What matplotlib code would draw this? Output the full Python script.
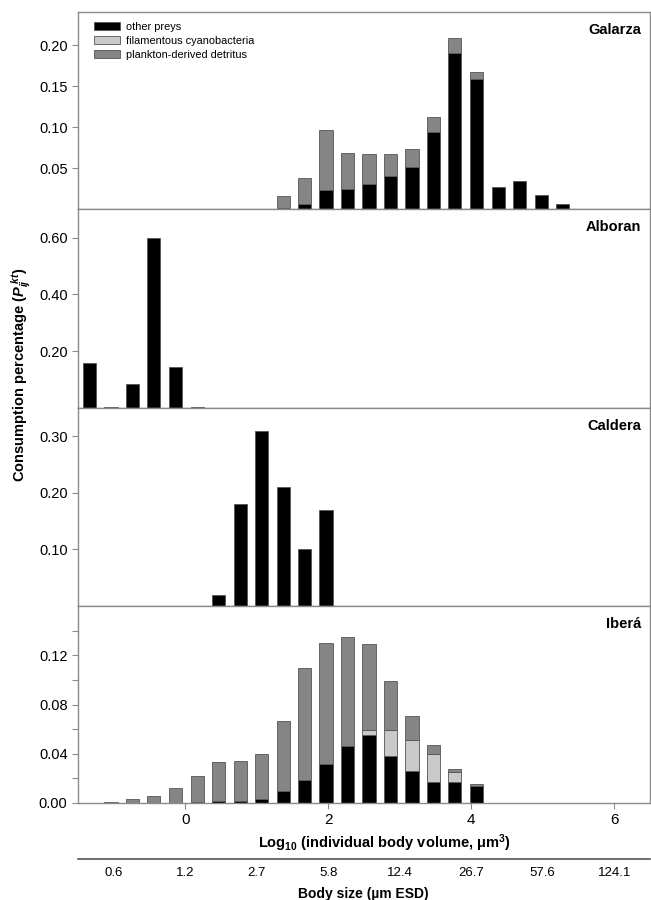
import numpy as np
import matplotlib
matplotlib.use("Agg")
import matplotlib.pyplot as plt
from matplotlib.patches import Patch

plt.rcParams['font.family'] = ['Liberation Sans', 'DejaVu Sans']
plt.rcParams['mathtext.fontset'] = 'custom'
plt.rcParams['mathtext.rm'] = 'Liberation Sans:bold'
plt.rcParams['mathtext.bf'] = 'Liberation Sans:bold'
plt.rcParams['mathtext.it'] = 'Liberation Sans:bold:italic'

# log10 body volume of each size class (centre of bin)
bin_centers = [-1.34, -1.04, -0.74, -0.44, -0.14, 0.17, 0.47, 0.77, 1.07, 1.37, 1.67,
               1.97, 2.27, 2.57, 2.87, 3.17, 3.47, 3.77, 4.07, 4.38, 4.68, 4.98, 5.28]

# Galarza (size classes 9..22)
galarza_other = [0.001, 0.007, 0.024, 0.025, 0.031, 0.040, 0.052, 0.094, 0.191, 0.159,
                 0.027, 0.035, 0.018, 0.007]
galarza_cyano = [0, 0, 0, 0, 0, 0, 0, 0, 0, 0, 0, 0, 0, 0]
galarza_detritus = [0.015, 0.031, 0.073, 0.044, 0.036, 0.027, 0.022, 0.019, 0.018, 0.008,
                    0, 0, 0, 0]

# Alboran (size classes 0..5)
alboran_other = [0.16, 0.005, 0.085, 0.60, 0.145, 0.004]

# Caldera (size classes 6..11)
caldera_other = [0.02, 0.18, 0.31, 0.21, 0.10, 0.17]

# Ibera (size classes 1..18)
ibera_other = [0, 0, 0, 0, 0.001, 0.002, 0.002, 0.003, 0.010, 0.019, 0.032, 0.046,
               0.055, 0.038, 0.026, 0.017, 0.017, 0.0135]
ibera_cyano = [0, 0, 0, 0, 0, 0, 0, 0, 0, 0, 0, 0,
               0.0045, 0.0215, 0.0255, 0.023, 0.0085, 0]
ibera_detritus = [0.001, 0.003, 0.006, 0.012, 0.021, 0.031, 0.032, 0.037, 0.057, 0.091,
                  0.098, 0.089, 0.0695, 0.0395, 0.0195, 0.007, 0.0025, 0.002]

esd_ticks = [-1, 0, 1, 2, 3, 4, 5, 6]
esd_labels = ["0.6", "1.2", "2.7", "5.8", "12.4", "26.7", "57.6", "124.1"]

panels = [
    ("Galarza", bin_centers[9:23], galarza_other, galarza_cyano, galarza_detritus,
     (0, 0.24), [0.05, 0.10, 0.15, 0.20], []),
    ("Alboran", bin_centers[0:6], alboran_other, None, None,
     (0, 0.70), [0.20, 0.40, 0.60], []),
    ("Caldera", bin_centers[6:12], caldera_other, None, None,
     (0, 0.35), [0.10, 0.20, 0.30], []),
    ("Iberá", bin_centers[1:19], ibera_other, ibera_cyano, ibera_detritus,
     (0, 0.16), [0.00, 0.04, 0.08, 0.12], [0.02, 0.06, 0.10, 0.14]),
]

c_other = "#000000"
c_cyano = "#c9c9c9"
c_det = "#858585"
edge = "#555555"
spine_c = "#8a8a8a"
width = 0.185

fig = plt.figure(figsize=(6.51, 9.0), dpi=100)
left, right = 78 / 651, 650 / 651
edges_px = [12.3, 209.3, 408, 606, 803]

axes = []
for i, (name, xs, other, cyano, det, ylim, yt, ymin) in enumerate(panels):
    top = 1 - edges_px[i] / 900
    bot = 1 - edges_px[i + 1] / 900
    ax = fig.add_axes([left, bot, right - left, top - bot])
    axes.append(ax)
    xs = np.array(xs)
    other = np.array(other)
    base = np.zeros(len(xs))
    segs = [(other, c_other)]
    if cyano is not None:
        segs.append((np.array(cyano), c_cyano))
        segs.append((np.array(det), c_det))
    for vals, col in segs:
        m = vals > 0
        ax.bar(xs[m], vals[m], width=width, bottom=base[m], color=col,
               edgecolor=edge, linewidth=0.6)
        base = base + vals
    ax.set_xlim(-1.5, 6.5)
    ax.set_ylim(*ylim)
    ax.set_yticks(yt)
    ax.set_yticklabels(["%.2f" % v for v in yt], fontsize=10.5)
    if ymin:
        ax.set_yticks(ymin, minor=True)
    for s in ax.spines.values():
        s.set_color(spine_c)
        s.set_linewidth(1.0)
    ax.tick_params(axis='y', which='both', direction='out', length=4, color=spine_c, width=0.8)
    ax.text(0.984, 0.91, name, transform=ax.transAxes, ha='right', va='center',
            fontsize=10.5, fontweight='bold')
    if i < 3:
        ax.set_xticks([])
    else:
        ax.set_xticks([0, 2, 4, 6])
        ax.set_xticklabels(["0", "2", "4", "6"], fontsize=11)
        ax.tick_params(axis='x', direction='out', length=4, color=spine_c, width=0.8)

handles = [Patch(facecolor=c_other, edgecolor=edge, linewidth=0.6),
           Patch(facecolor=c_cyano, edgecolor=edge, linewidth=0.6),
           Patch(facecolor=c_det, edgecolor=edge, linewidth=0.6)]
axes[0].legend(handles, ["other preys", "filamentous cyanobacteria", "plankton-derived detritus"],
               loc='upper left', bbox_to_anchor=(0.028, 0.95), frameon=False, fontsize=7.9,
               handlelength=2.4, handleheight=0.75, labelspacing=0.35, handletextpad=0.5,
               borderaxespad=0, borderpad=0)

# ESD scale below the main axis
ax2 = fig.add_axes([left, 1 - 859 / 900, right - left, 0.0001])
ax2.set_xlim(-1.5, 6.5)
ax2.set_yticks([])
for k in ["top", "left", "right"]:
    ax2.spines[k].set_visible(False)
ax2.spines["bottom"].set_color("#555555")
ax2.spines["bottom"].set_linewidth(1.2)
ax2.set_xticks(esd_ticks)
ax2.set_xticklabels(esd_labels, fontsize=9.5)
ax2.tick_params(axis='x', length=0, pad=6)
ax2.patch.set_visible(False)
# the last label sits a little higher in the original
ax2.get_xticklabels()[-1].set_y(0.3)

fig.text(384 / 651, 1 - 843 / 900, r"Log$_{10}$ (individual body volume, $\mathrm{\mu}$m$^3$)",
         ha='center', va='center', fontsize=10.5, fontweight='bold')
fig.text(363 / 651, 1 - 894 / 900, "Body size (\u00b5m ESD)",
         ha='center', va='center', fontsize=10, fontweight='bold')
fig.text(21 / 651, 1 - 375 / 900, r"Consumption percentage ($P_{ij}^{\ kt}$)",
         ha='center', va='center', rotation=90, fontsize=10.5, fontweight='bold')

fig.savefig("out.png", dpi=100)
